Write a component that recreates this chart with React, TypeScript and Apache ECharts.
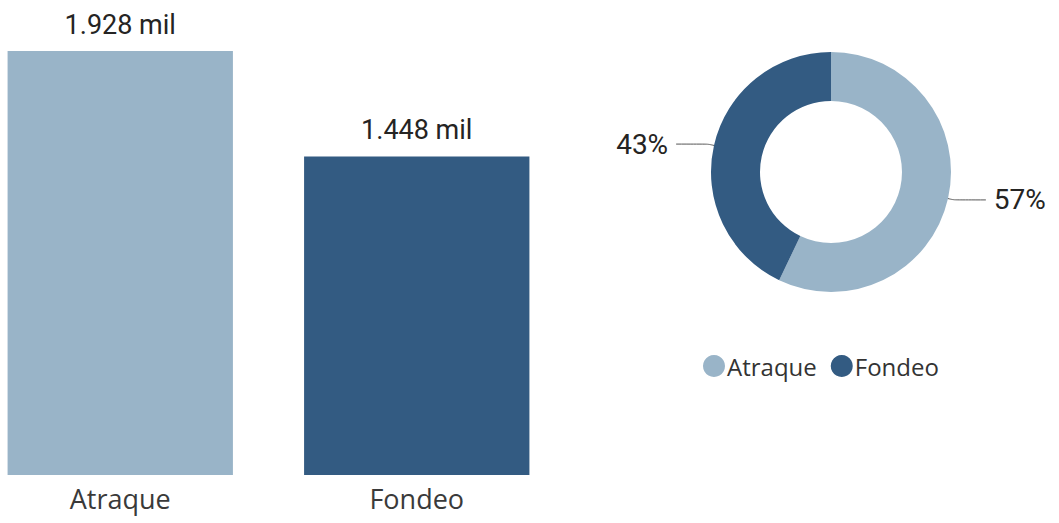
import React, { useEffect, useRef } from "react";
import * as echarts from "echarts";

const categories = ["Atraque", "Fondeo"];
const values = [1928, 1448];
const colors = ["#99B4C8", "#335B82"];

const SHIFT = 28;

function fmtMil(v: number): string {
  return (v / 1000).toFixed(3) + " mil";
}

export default function App() {
  const ref = useRef<HTMLDivElement>(null);
  useEffect(() => {
    if (!ref.current) return;
    const chart = echarts.init(ref.current, undefined, { renderer: "svg" });
    const total = values.reduce((a, b) => a + b, 0);
    chart.setOption({
      animation: false,
      backgroundColor: "#ffffff",
      grid: { left: 0, width: 593, top: 51, bottom: 48 },
      xAxis: {
        type: "category",
        data: categories,
        axisLine: { show: false },
        axisTick: { show: false },
        axisLabel: {
          margin: 10,
          fontSize: 27,
          color: "#3a3a3a",
          fontFamily: "Open Sans",
        },
      },
      yAxis: {
        type: "value",
        min: 0,
        max: values[0],
        show: false,
      },
      legend: {
        data: categories,
        left: 698 + SHIFT,
        top: 349,
        icon: "circle",
        itemWidth: 22,
        itemHeight: 22,
        itemGap: 14,
        textStyle: { fontSize: 24, color: "#333333", fontFamily: "Open Sans", padding: [0, 0, 0, -3] },
      },
      series: [
        {
          type: "bar",
          barCategoryGap: "24%",
          data: values.map((v, i) => ({ value: v, itemStyle: { color: colors[i] } })),
          label: {
            show: true,
            position: "top",
            distance: 13,
            fontSize: 27,
            color: "#252423",
            fontFamily: "Roboto",
            formatter: (p: any) => fmtMil(p.value),
          },
        },
        {
          type: "pie",
          center: [831 + SHIFT, 172],
          radius: [71, 120],
          startAngle: 90,
          clockwise: true,
          data: categories.map((c, i) => ({
            name: c,
            value: values[i],
            itemStyle: { color: colors[i] },
          })),
          label: {
            show: true,
            fontSize: 28,
            color: "#252423",
            fontFamily: "Roboto",
            distanceToLabelLine: 8,
            formatter: (p: any) => Math.round((p.value / total) * 100) + "%",
          },
          labelLine: {
            show: true,
            length: 6,
            length2: 32,
            smooth: 0.3,
            lineStyle: { color: "#555555", width: 1 },
          },
        },
      ],
    });
    return () => chart.dispose();
  }, []);
  return (
    <div
      ref={ref}
      style={{ position: "fixed", left: -SHIFT, top: 0, width: 1059 + SHIFT, height: 523 }}
    />
  );
}
